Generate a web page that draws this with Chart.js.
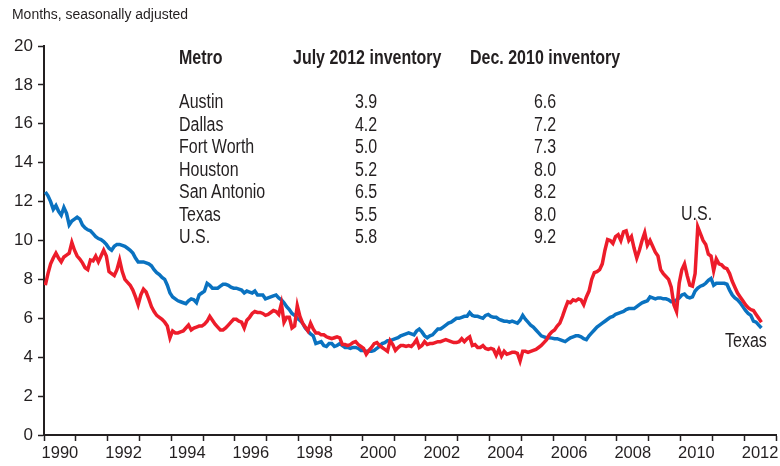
<!DOCTYPE html>
<html>
<head>
<meta charset="utf-8">
<script src="https://cdn.jsdelivr.net/npm/chart.js@4.4.1/dist/chart.umd.min.js"></script>
<style>
  html, body { margin: 0; padding: 0; background: #fff; }
  #wrap { position: relative; width: 780px; height: 466px; font-family: 'Liberation Sans', Arial, sans-serif; color: #231f20; }
  #wrap canvas { position: absolute; left: 0; top: 0; }
  .t { position: absolute; white-space: nowrap; line-height: 20px; height: 20px; transform-origin: 0 50%; }
  .c { text-align: center; transform-origin: 50% 50%; }
  .b { font-weight: bold; }
</style>
</head>
<body>
<div id="wrap">
  <canvas id="chart" width="780" height="466"></canvas>
</div>
<script>
// Monthly months' supply of homes, Jan 1990 - Jul 2012
const startYear = 1990;

const texasValues = [
  // 1990
  12.5, 12.3, 12.0, 11.6, 11.8, 11.5, 11.3, 11.7, 11.4, 10.8, 11.0, 11.1,
  // 1991
  11.2, 11.1, 10.8, 10.65, 10.55, 10.5, 10.35, 10.2, 10.1, 10.05, 9.95, 9.8,
  // 1992
  9.6, 9.5, 9.7, 9.8, 9.8, 9.75, 9.7, 9.6, 9.5, 9.35, 9.1, 8.9,
  // 1993
  8.9, 8.9, 8.85, 8.8, 8.7, 8.5, 8.35, 8.25, 8.1, 8.0, 7.7, 7.3,
  // 1994
  7.1, 7.0, 6.9, 6.85, 6.8, 6.75, 6.9, 7.0, 6.95, 6.8, 7.2, 7.3,
  // 1995
  7.4, 7.8, 7.7, 7.55, 7.55, 7.55, 7.65, 7.75, 7.75, 7.7, 7.6, 7.55,
  // 1996
  7.55, 7.5, 7.45, 7.3, 7.4, 7.35, 7.3, 7.4, 7.2, 7.2, 7.2, 7.0,
  // 1997
  7.05, 7.1, 7.15, 7.2, 7.05, 6.95, 6.8, 6.6, 6.45, 6.25, 6.15, 6.0,
  // 1998
  5.9, 5.75, 5.5, 5.35, 5.2, 5.1, 4.7, 4.75, 4.8, 4.6, 4.55, 4.7,
  // 1999
  4.7, 4.55, 4.6, 4.7, 4.6, 4.5, 4.5, 4.45, 4.5, 4.5, 4.45, 4.35,
  // 2000
  4.35, 4.3, 4.3, 4.3, 4.35, 4.45, 4.55, 4.7, 4.75, 4.85, 4.85, 4.9,
  // 2001
  4.95, 5.0, 5.1, 5.15, 5.2, 5.25, 5.2, 5.15, 5.35, 5.45, 5.3, 5.1,
  // 2002
  5.0, 5.1, 5.15, 5.3, 5.45, 5.45, 5.55, 5.65, 5.75, 5.8, 5.9, 6.0,
  // 2003
  6.0, 6.05, 6.1, 6.1, 6.3, 6.15, 6.1, 6.1, 6.05, 6.0, 6.15, 6.2,
  // 2004
  6.1, 6.05, 6.05, 5.95, 5.9, 5.85, 5.85, 5.8, 5.85, 5.8, 5.75, 5.9,
  // 2005
  6.15, 5.95, 5.8, 5.65, 5.55, 5.4, 5.25, 5.1, 5.05, 5.0, 5.0, 4.98,
  // 2006
  4.95, 4.95, 4.9, 4.85, 4.8, 4.9, 5.0, 5.05, 5.1, 5.1, 5.05, 4.95,
  // 2007
  4.9, 5.1, 5.25, 5.4, 5.55, 5.65, 5.75, 5.85, 5.95, 6.05, 6.1, 6.2,
  // 2008
  6.25, 6.3, 6.35, 6.45, 6.5, 6.5, 6.5, 6.6, 6.7, 6.8, 6.85, 6.9,
  // 2009
  7.1, 7.05, 7.0, 7.05, 7.05, 7.0, 7.0, 6.95, 6.85, 6.85, 6.95, 7.05,
  // 2010
  7.2, 7.25, 7.1, 7.05, 7.1, 7.4, 7.55, 7.65, 7.7, 7.8, 7.95, 8.05,
  // 2011
  7.7, 7.8, 7.8, 7.8, 7.8, 7.75, 7.45, 7.2, 7.05, 6.95, 6.8, 6.6,
  // 2012
  6.4, 6.25, 6.15, 5.85, 5.8, 5.65, 5.5
];

const usValues = [
  // 1990
  7.7, 8.3, 8.8, 9.1, 9.35, 9.1, 8.9, 9.15, 9.25, 9.35, 9.9, 9.5,
  // 1991
  9.2, 9.05, 8.85, 8.6, 8.5, 9.0, 8.95, 9.2, 8.9, 9.2, 9.5, 9.2,
  // 1992
  8.4, 8.3, 8.2, 8.5, 9.0, 8.4, 8.0, 7.85, 7.7, 7.45, 7.1, 6.7,
  // 1993
  7.2, 7.5, 7.35, 7.0, 6.6, 6.35, 6.15, 6.05, 5.95, 5.8, 5.6, 5.0,
  // 1994
  5.35, 5.25, 5.25, 5.3, 5.35, 5.5, 5.65, 5.4, 5.5, 5.55, 5.6, 5.6,
  // 1995
  5.7, 5.85, 6.1, 5.9, 5.7, 5.55, 5.4, 5.4, 5.5, 5.65, 5.8, 5.95,
  // 1996
  5.95, 5.85, 5.8, 5.5, 5.9, 6.05, 6.25, 6.35, 6.3, 6.3, 6.25, 6.15,
  // 1997
  6.2, 6.3, 6.4, 6.35, 6.2, 6.75, 5.8, 6.05, 6.05, 5.5, 5.6, 6.65,
  // 1998
  6.1, 5.75, 5.55, 5.35, 5.75, 5.45, 5.25, 5.25, 5.15, 5.15, 5.05, 5.0,
  // 1999
  4.95, 5.0, 5.05, 5.0, 4.65, 4.65, 4.6, 4.65, 4.75, 4.8, 4.65, 4.55,
  // 2000
  4.45, 4.15, 4.35, 4.5, 4.7, 4.75, 4.6, 4.5, 4.4, 4.3, 4.85, 4.65,
  // 2001
  4.35, 4.5, 4.6, 4.6, 4.55, 4.6, 4.55, 4.7, 4.9, 4.5, 4.6, 4.8,
  // 2002
  4.65, 4.7, 4.7, 4.75, 4.8, 4.8, 4.85, 4.9, 4.85, 4.8, 4.75, 4.75,
  // 2003
  4.8, 4.95, 4.8, 4.95, 5.05, 4.6, 4.65, 4.5, 4.5, 4.6, 4.45, 4.4,
  // 2004
  4.45, 4.4, 4.1, 4.4, 4.05, 4.3, 4.15, 4.2, 4.25, 4.25, 4.2, 3.8,
  // 2005
  4.3, 4.3, 4.25, 4.3, 4.35, 4.4, 4.5, 4.6, 4.75, 4.9, 5.15, 5.3,
  // 2006
  5.4, 5.6, 5.75, 6.1, 6.5, 6.85, 6.8, 6.95, 6.9, 7.0, 6.95, 6.7,
  // 2007
  7.1, 7.4, 8.0, 8.35, 8.4, 8.5, 8.8, 9.5, 10.05, 10.0, 9.85, 10.2,
  // 2008
  10.3, 10.0, 10.45, 10.5, 10.0, 10.2, 9.6, 9.1, 9.5, 10.0, 10.4, 9.75,
  // 2009
  10.0, 9.7, 9.4, 9.2, 8.5, 8.3, 8.15, 8.0, 7.6, 6.7, 6.35, 7.8,
  // 2010
  8.5, 8.8, 8.2, 7.7, 7.65, 8.3, 10.7, 10.35, 10.0, 9.8, 9.3, 9.2,
  // 2011
  8.45, 9.05, 8.8, 8.75, 8.6, 8.55, 8.3, 7.9, 7.6, 7.3, 7.1, 6.9,
  // 2012
  6.7, 6.55, 6.45, 6.4, 6.2, 6.0, 5.8
];

// Table inside the chart
const metros = ['Austin', 'Dallas', 'Fort Worth', 'Houston', 'San Antonio', 'Texas', 'U.S.'];
const july2012 = ['3.9', '4.2', '5.0', '5.2', '6.5', '5.5', '5.8'];
const dec2010 = ['6.6', '7.2', '7.3', '8.0', '8.2', '8.0', '9.2'];

const yTicks = [0, 2, 4, 6, 8, 10, 12, 14, 16, 18, 20];

const blue = '#0a72c0';
const red = '#ed1c2a';
const ink = '#231f20';
const fontFamily = "'Liberation Sans', Arial, sans-serif";

function toPoints(values) {
  // each month sits in the middle of its slot on the year axis
  return values.map((v, i) => ({ x: startYear + (i + 0.5) / 12, y: v }));
}

// overlay text (narrowed to look like the condensed face of the original)
const wrap = document.getElementById('wrap');
function addText(txt, left, cy, opts) {
  opts = opts || {};
  const d = document.createElement('div');
  d.className = 't' + (opts.bold ? ' b' : '') + (opts.center ? ' c' : '');
  d.textContent = txt;
  d.style.top = (cy - 10) + 'px';
  d.style.fontSize = (opts.size || 19.5) + 'px';
  const sx = opts.scale || 0.82;
  d.style.transform = 'scaleX(' + sx + ')';
  if (opts.center) {
    d.style.left = (left - 50) + 'px';
    d.style.width = '100px';
  } else {
    d.style.left = left + 'px';
  }
  wrap.appendChild(d);
}

addText('Months, seasonally adjusted', 12, 14, { size: 15.5, scale: 0.9 });
addText('Metro', 179, 57, { bold: true });
addText('July 2012 inventory', 293, 57, { bold: true });
addText('Dec. 2010 inventory', 470, 57, { bold: true });
metros.forEach((m, i) => {
  const cy = 101 + i * 22.5;
  addText(m, 179, cy);
  addText(july2012[i], 366, cy, { center: true });
  addText(dec2010[i], 545, cy, { center: true });
});
addText('U.S.', 681, 213);
addText('Texas', 725, 340);

new Chart(document.getElementById('chart'), {
  type: 'line',
  data: {
    datasets: [{
      label: 'U.S.',
      data: toPoints(usValues),
      borderColor: red,
      borderWidth: 3.5,
      pointRadius: 0,
      tension: 0
    }, {
      label: 'Texas',
      data: toPoints(texasValues),
      borderColor: blue,
      borderWidth: 3.5,
      pointRadius: 0,
      tension: 0
    }]
  },
  options: {
    responsive: false,
    animation: false,
    devicePixelRatio: 1,
    layout: { padding: { top: 46, right: 4, left: 0, bottom: 0 } },
    plugins: {
      legend: { display: false },
      tooltip: { enabled: false }
    },
    scales: {
      x: {
        type: 'linear',
        min: 1990,
        max: 2013,
        afterFit: function(scale) { scale.height = 31; },
        border: { color: ink, width: 2 },
        grid: {
          drawOnChartArea: false,
          drawTicks: true,
          tickLength: 6,
          tickWidth: 1.5,
          tickColor: function(ctx) {
            return ctx.tick && Number.isInteger(ctx.tick.value) ? ink : 'rgba(0,0,0,0)';
          }
        },
        ticks: {
          stepSize: 0.5,
          autoSkip: false,
          maxRotation: 0,
          padding: 3,
          color: ink,
          font: { family: fontFamily, size: 16.5 },
          callback: function(value) {
            const yr = Math.floor(value);
            const frac = value - yr;
            return (Math.abs(frac - 0.5) < 0.01 && yr % 2 === 0) ? String(yr) : '';
          }
        }
      },
      y: {
        min: 0,
        max: 20,
        afterFit: function(scale) { scale.width = 44; },
        afterBuildTicks: function(scale) {
          scale.ticks = yTicks.map(v => ({ value: v }));
        },
        border: { color: ink, width: 2 },
        grid: {
          drawOnChartArea: false,
          drawTicks: true,
          tickLength: 6,
          tickWidth: 1.5,
          tickColor: ink
        },
        ticks: {
          padding: 5,
          color: ink,
          font: { family: fontFamily, size: 17 }
        }
      }
    }
  }
});
</script>
</body>
</html>
